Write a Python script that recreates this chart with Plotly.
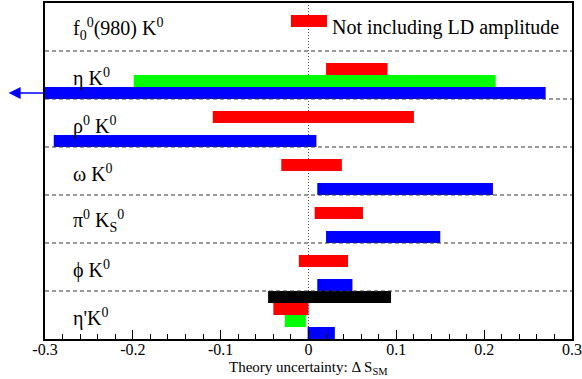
import plotly.graph_objects as go

# Channels, listed top to bottom
channels = ["f0(980)K0", "etaK0", "rho0K0", "omegaK0", "pi0KS0", "phiK0", "etapK0"]
channel_labels = [
    "f<sub>0</sub><sup>0</sup>(980) K<sup>0</sup>",
    "η K<sup>0</sup>",
    "ρ<sup>0</sup> K<sup>0</sup>",
    "ω K<sup>0</sup>",
    "π<sup>0</sup> K<sub>S</sub><sup>0</sup>",
    "ϕ K<sup>0</sup>",
    "η'K<sup>0</sup>",
]

# Theory uncertainty ranges (low, high) per channel; None = not shown
red_low = [-0.020, 0.020, -0.109, -0.031, 0.007, -0.011, -0.040]
red_high = [0.021, 0.090, 0.120, 0.038, 0.062, 0.045, 0.000]

blue_low = [None, -0.340, -0.290, 0.010, 0.020, 0.010, -0.001]
blue_high = [None, 0.270, 0.009, 0.210, 0.150, 0.050, 0.030]

green_low = [None, -0.199, None, None, None, None, -0.027]
green_high = [None, 0.213, None, None, None, None, -0.003]

black_low = [None, None, None, None, None, None, -0.046]
black_high = [None, None, None, None, None, None, 0.094]

legend_text = "Not including LD amplitude"
xtick_vals = [-0.3, -0.2, -0.1, 0.0, 0.1, 0.2, 0.3]
xtick_text = ["-0.3", "-0.2", "-0.1", "0", "0.1", "0.2", "0.3"]
x_title = "Theory uncertainty: Δ S<sub>SM</sub>"

FONT = "Liberation Serif"
n = len(channels)
SLOT = 0.25


def row_of(i):
    # row index counted from the bottom
    return n - 1 - i


def make_trace(lows, highs, slot, color):
    ys, xs, bases = [], [], []
    for i, (lo, hi) in enumerate(zip(lows, highs)):
        if lo is None:
            continue
        ys.append(row_of(i) + SLOT / 2 + slot * SLOT)
        bases.append(lo)
        xs.append(hi - lo)
    return go.Bar(
        y=ys, x=xs, base=bases, orientation="h", width=SLOT,
        marker=dict(color=color, line=dict(width=0)),
        showlegend=False, hoverinfo="skip",
    )


fig = go.Figure()
fig.add_trace(make_trace(blue_low, blue_high, 0, "#0000FF"))
fig.add_trace(make_trace(green_low, green_high, 1, "#00FF00"))
fig.add_trace(make_trace(red_low, red_high, 2, "#FF0000"))
fig.add_trace(make_trace(black_low, black_high, 3, "#000000"))

shapes = []
# vertical dotted line at zero
shapes.append(dict(type="line", xref="x", yref="paper", x0=0, x1=0, y0=0, y1=1,
                   line=dict(color="#555555", width=1, dash="1px,2px"), layer="below"))
# dashed row separators
for k in range(1, n):
    shapes.append(dict(type="line", xref="paper", yref="y", x0=0, x1=1, y0=k, y1=k,
                       line=dict(color="#333333", width=1, dash="4px,3px"), layer="above"))

annotations = []
for i, lab in enumerate(channel_labels):
    annotations.append(dict(x=-0.27, y=row_of(i) + 0.45, xref="x", yref="y", text=lab,
                            showarrow=False, xanchor="left", yanchor="middle",
                            font=dict(family=FONT, size=20, color="black")))
annotations.append(dict(x=0.0245, y=row_of(0) + 0.5, xref="x", yref="y", text=legend_text,
                        showarrow=False, xanchor="left", yanchor="middle",
                        font=dict(family=FONT, size=20, color="black")))
# arrow for off-scale blue bar of eta K0
eta_row = row_of(channels.index("etaK0"))
annotations.append(dict(x=-0.069, y=eta_row + SLOT / 2, xref="paper", yref="y",
                        ax=36, ay=0, axref="pixel", ayref="pixel", text="",
                        showarrow=True, arrowhead=2, arrowsize=1.6, arrowwidth=1.5,
                        arrowcolor="#0000FF", standoff=0, startstandoff=0))
annotations.append(dict(x=0.5, y=-0.085, xref="paper", yref="paper", text=x_title,
                        showarrow=False, xanchor="center", yanchor="middle",
                        font=dict(family=FONT, size=15, color="black")))

fig.update_layout(
    template="none",
    width=582, height=379,
    margin=dict(l=45, r=10, t=3, b=40, autoexpand=False),
    paper_bgcolor="white", plot_bgcolor="white",
    barmode="overlay",
    font=dict(family=FONT, color="black"),
    shapes=shapes, annotations=annotations,
    xaxis=dict(range=[-0.3, 0.3], tickvals=xtick_vals, ticktext=xtick_text,
               ticks="inside", ticklen=9, tickwidth=1, tickcolor="black",
               minor=dict(dtick=0.02, ticks="inside", ticklen=5, tickwidth=1, tickcolor="black"),
               showline=True, linecolor="black", linewidth=2, mirror=True,
               showgrid=False, zeroline=False, ticklabelstandoff=-5, automargin=False,
               tickfont=dict(family=FONT, size=16, color="black")),
    yaxis=dict(range=[0, n], showticklabels=False, ticks="",
               showline=True, linecolor="black", linewidth=1.5, mirror=True,
               showgrid=False, zeroline=False, automargin=False),
)

fig.write_html("out.html", config={"displayModeBar": False},
               post_script="document.body.style.margin='0px';document.body.style.overflow='hidden';")
